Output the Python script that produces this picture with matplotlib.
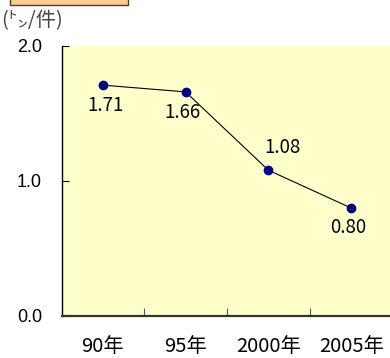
import matplotlib.pyplot as plt
from matplotlib.patches import Rectangle

years = ['90年', '95年', '2000年', '2005年']
values = [1.71, 1.66, 1.08, 0.80]
# label offsets in points (dx, dy) so labels sit clear of the line
label_offsets = [(2, -15), (-2, -15), (10, 16), (-2, -14)]

jp = ['Noto Sans CJK JP', 'DejaVu Sans']

fig = plt.figure(figsize=(3.9, 3.58), dpi=100)
ax = fig.add_axes([61.5 / 390, 42 / 358, 331 / 390, 270 / 358])
ax.set_facecolor('#FFFFCC')

x = range(len(values))
ax.plot(x, values, color='black', linewidth=0.8, marker='o',
        markersize=6, markerfacecolor='#000080', markeredgecolor='#000080')

for i, v in enumerate(values):
    dx, dy = label_offsets[i]
    ax.annotate(f'{v:.2f}', (i, v), xytext=(dx, dy), textcoords='offset points',
                ha='center', va='center', fontsize=13.5, family=jp)

ax.set_xlim(-0.5, 3.5)
ax.set_ylim(0, 2.0)
ax.set_yticks([0.0, 1.0, 2.0])
ax.set_yticklabels(['0.0', '1.0', '2.0'], family='Liberation Sans', fontsize=13)
ax.tick_params(axis='y', direction='in', length=5, pad=14, color='black')

# category labels at centres, tick marks on the boundaries
ax.set_xticks([0.5, 1.5, 2.5])
ax.set_xticklabels([])
ax.tick_params(axis='x', direction='in', length=6, color='#555555')
for i, lab in enumerate(years):
    ax.text(i, -0.225, lab, ha='center', va='center', fontsize=14.5,
            family=jp, transform=ax.transData, clip_on=False)

ax.spines['top'].set_visible(False)
ax.spines['right'].set_visible(False)
ax.spines['left'].set_color('black')
ax.spines['left'].set_linewidth(1.0)
ax.spines['bottom'].set_color('#333333')
ax.spines['bottom'].set_linewidth(1.6)

fig.text(1 / 390, 1 - 21 / 358, '(㌧/件)', fontsize=14.5, family=jp,
         color='#444444', ha='left', va='center')

# title box peeking in from the top
fig.patches.append(Rectangle((10 / 390, 1 - 4.5 / 358), 118 / 390, 10 / 358,
                             transform=fig.transFigure, facecolor='#FFCC99',
                             edgecolor='#5a3a1a', linewidth=1.0))

fig.savefig('out.png', dpi=100)
